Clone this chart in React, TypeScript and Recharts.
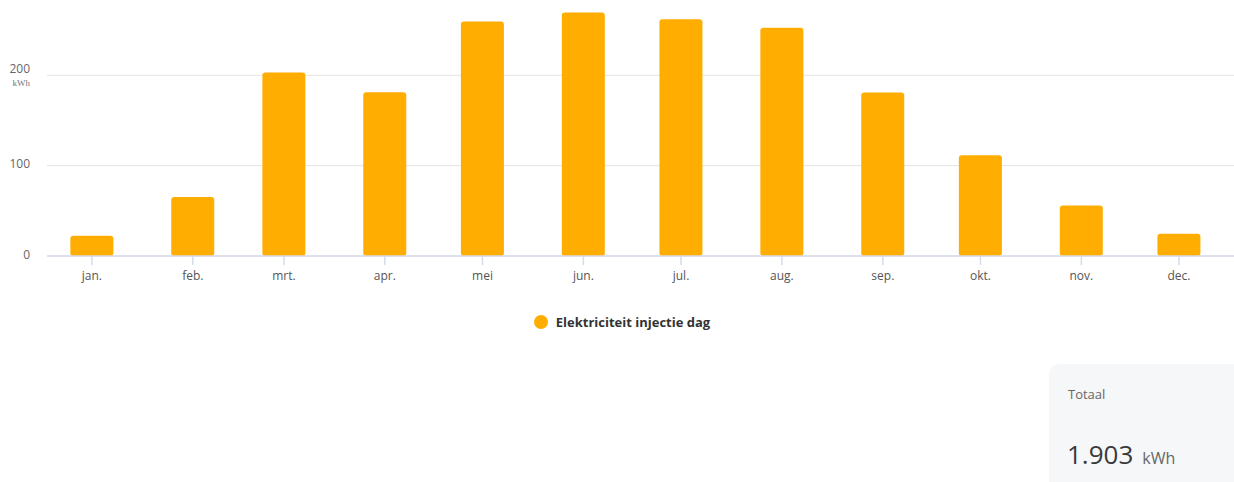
import React from 'react';
import { ComposedChart, Bar, XAxis, YAxis, CartesianGrid } from 'recharts';

// day of year of the first of each month (non-leap year)
const monthDays = [1, 32, 60, 91, 121, 152, 182, 213, 244, 274, 305, 335];
const monthLabels = ['jan.', 'feb.', 'mrt.', 'apr.', 'mei', 'jun.', 'jul.', 'aug.', 'sep.', 'okt.', 'nov.', 'dec.'];
const injectie = [22.3, 65.4, 203, 181.2, 259.6, 269.5, 262.1, 252.5, 181, 111.5, 56, 24.6];
const yTicks = [0, 100, 200];

const seriesName = 'Elektriciteit injectie dag';
const totaal = '1.903';
const unit = 'kWh';

const BAR = '#FFAD00';
const FONT = '"Open Sans", "Noto Sans", sans-serif';

const data = monthDays.map((day, i) => ({ day, value: injectie[i] }));

function labelFor(day: number): string {
  const i = monthDays.indexOf(day);
  return i >= 0 ? monthLabels[i] : '';
}

function YTick(props: any) {
  const { y, payload } = props;
  const top = payload.value === yTicks[yTicks.length - 1];
  return (
    <g>
      <text
        x={30}
        y={top ? y - 7 : y - 2}
        textAnchor="end"
        dominantBaseline="central"
        fill="#666"
        fontSize={12}
        fontFamily={FONT}
      >
        {payload.value}
      </text>
      {top && (
        <text x={30} y={y + 8} textAnchor="end" dominantBaseline="central" fill="#777" fontSize={9} fontFamily="serif">
          {unit}
        </text>
      )}
    </g>
  );
}

export default function App() {
  return (
    <div style={{ position: 'absolute', left: 0, top: 0, width: 1234, height: 482, overflow: 'hidden', background: '#fff' }}>
      <ComposedChart
        width={1234}
        height={345}
        data={data}
        margin={{ top: 0, right: 0, bottom: 59, left: 0 }}
      >
        <CartesianGrid vertical={false} syncWithTicks stroke="#e4e4e4" />
        <XAxis
          dataKey="day"
          type="number"
          domain={[-12.8, 351.9]}
          ticks={monthDays}
          tickFormatter={labelFor}
          interval={0}
          stroke="#d6dbea"
          strokeWidth={1.5}
          tickSize={9}
          tickMargin={6}
          tick={{ fontSize: 12, fill: '#555', fontFamily: FONT }}
        />
        <YAxis
          type="number"
          domain={[0, 283.3]}
          ticks={yTicks}
          width={47}
          axisLine={false}
          tickLine={false}
          tick={<YTick />}
        />
        <Bar
          dataKey="value"
          name={seriesName}
          fill={BAR}
          barSize={43}
          radius={3}
          isAnimationActive={false}
        />
      </ComposedChart>

      <div
        style={{
          position: 'absolute',
          top: 313,
          left: 0,
          width: 1244,
          display: 'flex',
          justifyContent: 'center',
          alignItems: 'center',
          gap: 8,
          fontFamily: FONT,
          fontSize: 13,
          fontWeight: 700,
          color: '#333',
        }}
      >
        <span style={{ width: 14, height: 14, borderRadius: 7, background: BAR, display: 'inline-block' }} />
        {seriesName}
      </div>

      <div
        style={{
          position: 'absolute',
          left: 1049,
          top: 364,
          width: 200,
          height: 140,
          borderRadius: 10,
          background: '#f6f7f9',
          fontFamily: FONT,
        }}
      >
        <div style={{ position: 'absolute', left: 19, top: 21, fontSize: 13, color: '#666' }}>Totaal</div>
        <div style={{ position: 'absolute', left: 18, top: 72, whiteSpace: 'nowrap', color: '#3a3a3a' }}>
          <span style={{ fontSize: 26 }}>{totaal}</span>
          <span style={{ fontSize: 16, color: '#666', marginLeft: 9 }}>{unit}</span>
        </div>
      </div>
    </div>
  );
}
